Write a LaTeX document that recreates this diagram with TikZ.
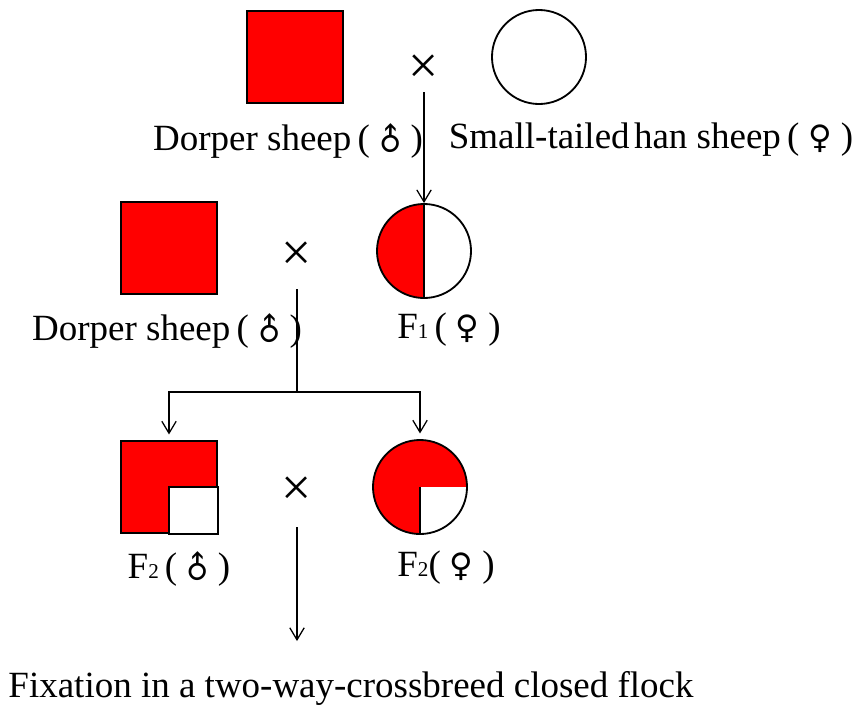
\documentclass[tikz,border=0pt]{standalone}
\usepackage{fontspec}
\setmainfont{Liberation Serif}
\newfontfamily\symfont{DejaVu Sans}
\usepackage{xcolor}
\usetikzlibrary{arrows.meta}
\usetikzlibrary{positioning}

\definecolor{sheepred}{RGB}{255,0,0}
\newcommand{\malesign}{\makebox[0.6em]{\symfont\fontsize{22}{22}\selectfont\rotatebox[origin=c]{45}{♂}}}
\newcommand{\femalesign}{\makebox[0.62em]{\symfont\fontsize{23}{23}\selectfont ♀}}
\newcommand{\subnum}[1]{{\fontsize{15}{15}\selectfont #1}}

\begin{document}
\begin{tikzpicture}[x=0.025cm, y=-0.025cm,
    >={Straight Barb[length=3mm,width=3.6mm]},
    every node/.style={font=\fontsize{26.3}{30}\selectfont},
    sq/.style={draw, line width=1.3pt, fill=sheepred, minimum width=2.4cm,
      minimum height=2.3cm, inner sep=0pt},
    ring/.style={draw, circle, line width=1.3pt, minimum size=2.35cm, inner sep=0pt},
    half/.style={ring, path picture={
        \fill[sheepred] (path picture bounding box.north west) rectangle (path picture bounding box.south);
        \draw[line width=1.3pt] (path picture bounding box.north) -- (path picture bounding box.south);}},
    threeq/.style={ring, path picture={
        \fill[sheepred] (path picture bounding box.north west) rectangle (path picture bounding box.south east);
        \fill[white] (path picture bounding box.center) rectangle (path picture bounding box.south east);
        \draw[line width=1.3pt] (path picture bounding box.center) -- (path picture bounding box.south);}},
    cross/.style={font=\fontsize{38}{38}\selectfont, inner sep=0pt},
    link/.style={line width=0.9pt}]
      \useasboundingbox (0,0) rectangle (859,705);

      % parents
      \node[sq] (S1) at (295,57) {};
      \node[cross] (X1) at (424,69) {×};
      \node[ring] (C1) at (539,57) {};
      \node (L1) at (288,140) {Dorper sheep\,( \malesign{} )};
      \node (L2) at (651,140) {Small-tailed\hspace{0.12em}han sheep\,( \femalesign{} )};

      % backcross
      \node[sq] (S2) at (169,248) {};
      \node[cross] (X2) at (297,256) {×};
      \node[half] (C2) at (424,251) {};
      \node (L3) at (167,330) {Dorper sheep\,( \malesign{} )};
      \node (L4) at (449,330) {F\subnum{1}\,( \femalesign{} )};

      % F2
      \node[sq] (S3) at (169,487) {};
      \draw[line width=1.3pt, fill=white] (S3.center) rectangle (S3.south east);
      \node[cross] (X3) at (297,491) {×};
      \node[threeq] (C3) at (420,487) {};
      \node (L5) at (179,568) {F\subnum{2}\,( \malesign{} )};
      \node (L6) at (446,568) {F\subnum{2}( \femalesign{} )};

      \node (L7) at (351,688) {Fixation in a two-way-crossbreed closed flock};

      \coordinate (X1b) at (424,92);
      \coordinate (X2b) at (297,289);
      \coordinate (J) at (297,392);
      \coordinate (X3b) at (297,527);
      \coordinate (E) at (297,641);

      \draw[link,->] (X1b) -- (C2.north);
      \draw[link] (X2b) -- (J);
      \draw[link,->,shorten >=4pt] (J) -| (S3.north);
      \draw[link,->,shorten >=4pt] (J) -| (C3.north);
      \draw[link,->] (X3b) -- (E);
    \end{tikzpicture}
\end{document}
